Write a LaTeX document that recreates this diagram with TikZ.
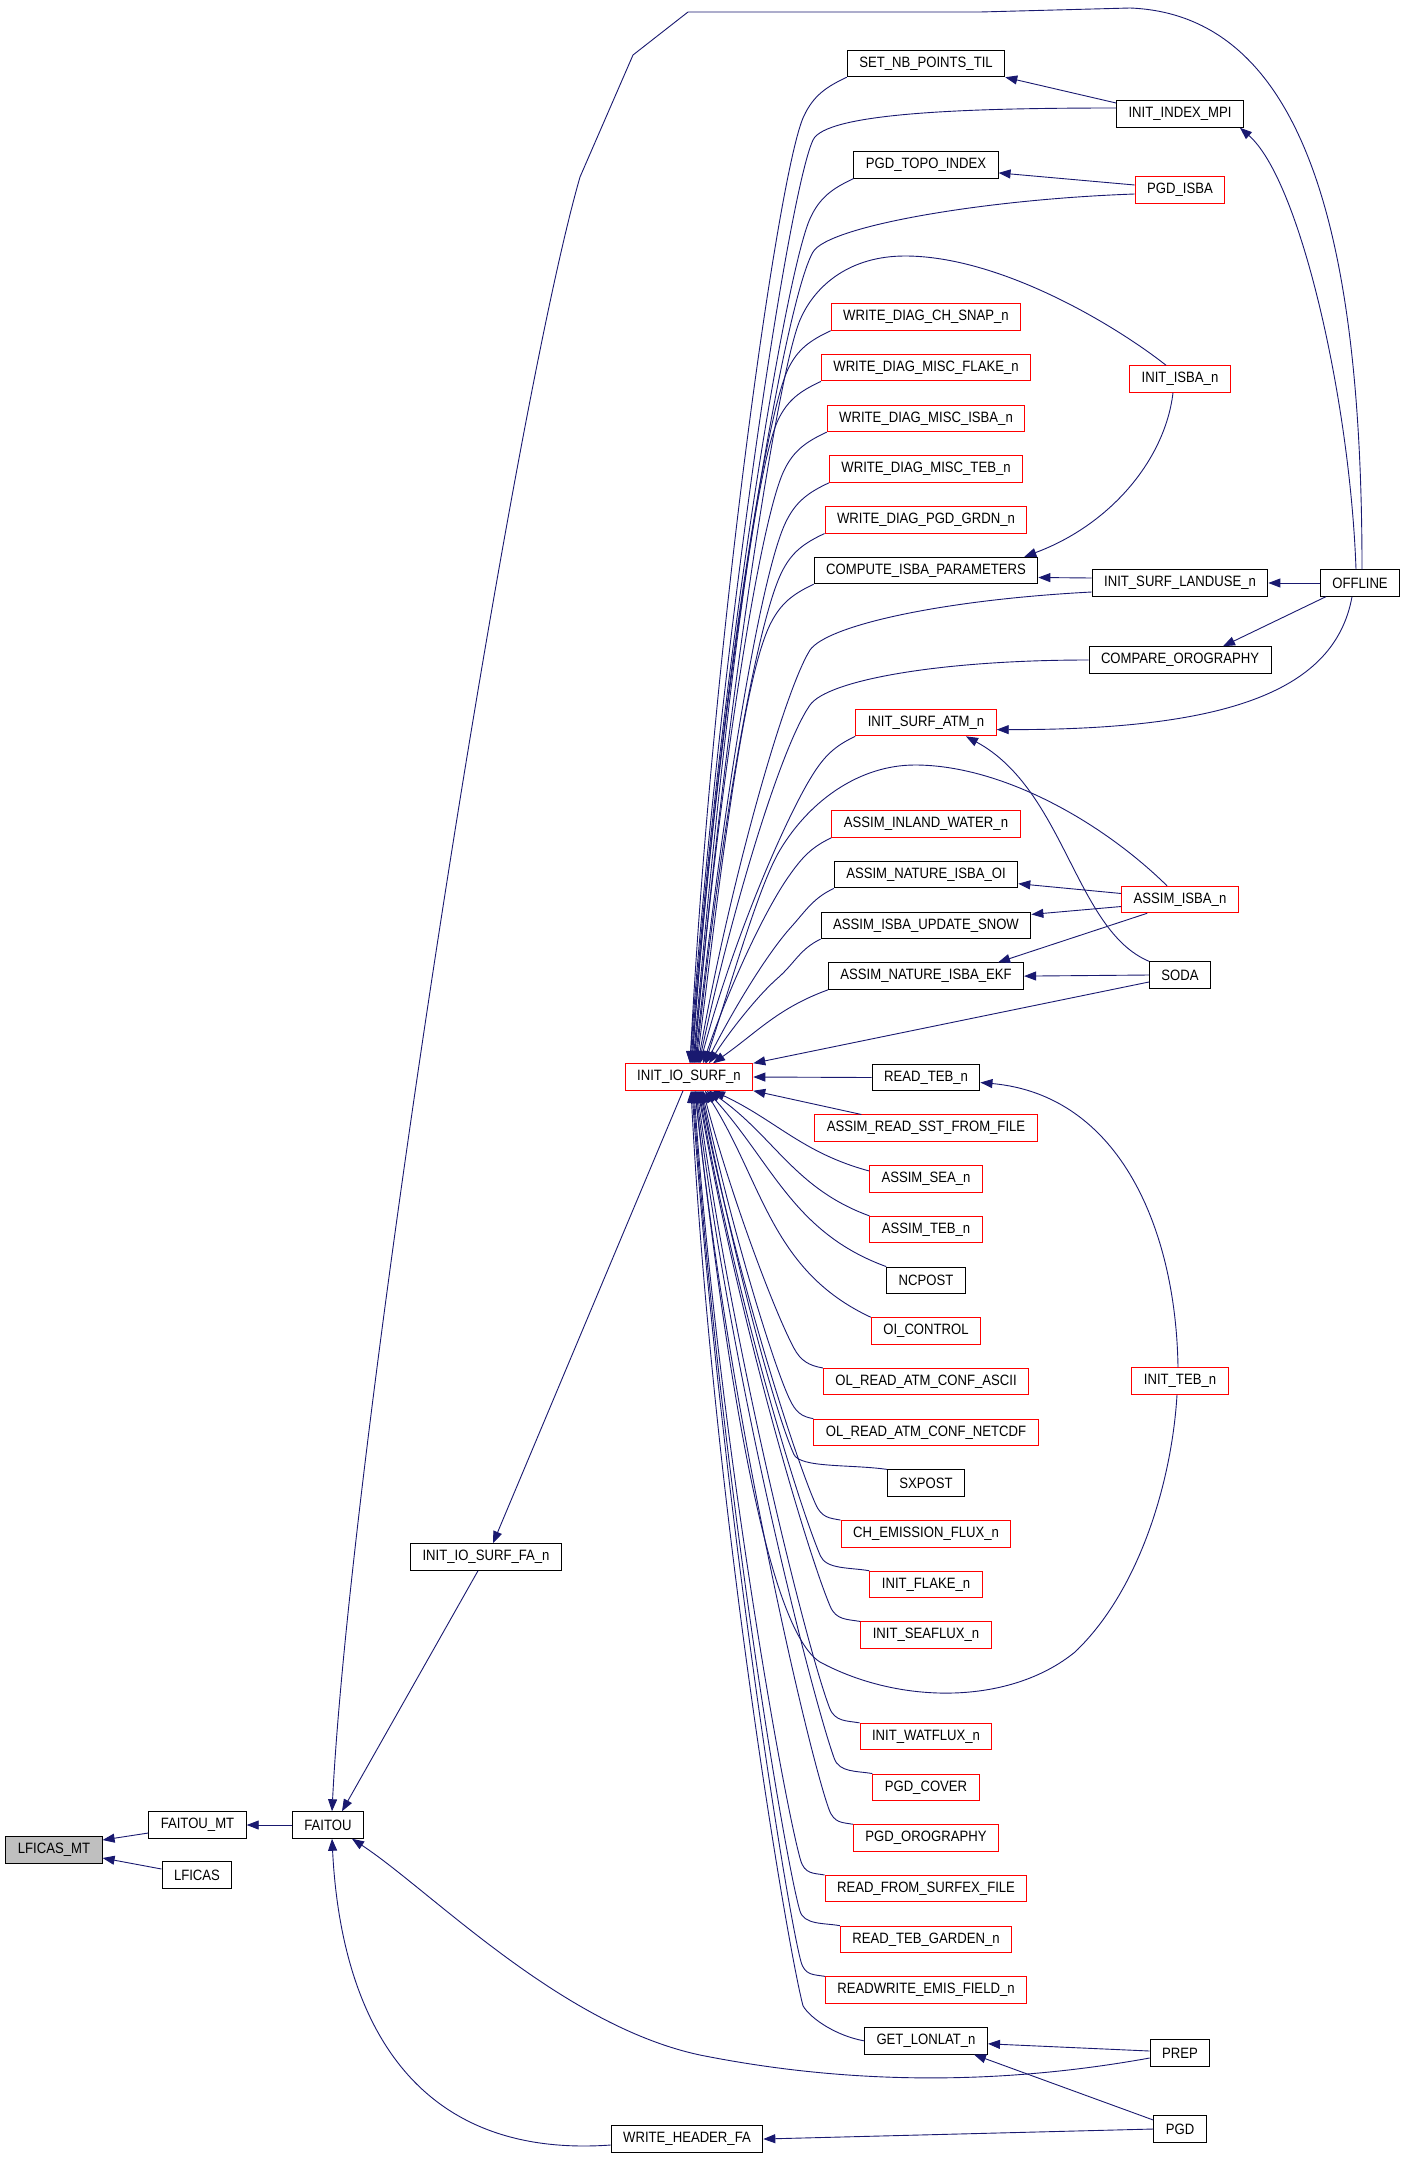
\documentclass[tikz,border=0pt]{standalone}
\usepackage{fontspec}
\newfontfamily\graphfont[FakeStretch=0.875]{Liberation Sans}
\usetikzlibrary{arrows.meta}
\definecolor{edgeblue}{RGB}{25,25,112}

\begin{document}
\begin{tikzpicture}[x=1pt,y=1pt,node distance=50.7pt,
func/.style={
rectangle,
draw,
line width=1pt,
minimum height=26.5pt,
inner xsep=12pt,
inner ysep=2pt,
font=\graphfont\fontsize{15}{18}\selectfont
},
funcred/.style={func,draw=red},
funcsel/.style={func,fill=black!25},
call/.style={->,>={Triangle[length=12pt,width=9pt]},draw=edgeblue,line width=0.9pt}]

\path[use as bounding box,fill=white] (0,0) rectangle (1405,-2160);

\node (lmt) [funcsel] at (54,-1850) {LFICAS\_MT};
\node (fmt) [func] at (197.5,-1825) {FAITOU\_MT};
\node (lficas) [func] at (197,-1875) {LFICAS};
\node (faitou) [func] at (328,-1825) {FAITOU};
\node (iiosfa) [func] at (486,-1557) {INIT\_IO\_SURF\_FA\_n};
\node (iois) [funcred] at (689,-1077) {INIT\_IO\_SURF\_n};
\node (whfa) [func] at (687,-2139) {WRITE\_HEADER\_FA};

\node (snpt) [func] at (926,-63.5) {SET\_NB\_POINTS\_TIL};
\node (pti) [func,below of=snpt,node distance=101.4pt] {PGD\_TOPO\_INDEX};
\node (wdcs) [funcred,below of=pti,node distance=152.1pt] {WRITE\_DIAG\_CH\_SNAP\_n};
\node (wdmf) [funcred,below of=wdcs] {WRITE\_DIAG\_MISC\_FLAKE\_n};
\node (wdmi) [funcred,below of=wdmf] {WRITE\_DIAG\_MISC\_ISBA\_n};
\node (wdmt) [funcred,below of=wdmi] {WRITE\_DIAG\_MISC\_TEB\_n};
\node (wdpg) [funcred,below of=wdmt] {WRITE\_DIAG\_PGD\_GRDN\_n};
\node (cip) [func,below of=wdpg] {COMPUTE\_ISBA\_PARAMETERS};
\node (isa) [funcred,below of=cip,node distance=152.1pt] {INIT\_SURF\_ATM\_n};
\node (aiw) [funcred,below of=isa,node distance=101.4pt] {ASSIM\_INLAND\_WATER\_n};
\node (anio) [func,below of=aiw] {ASSIM\_NATURE\_ISBA\_OI};
\node (aius) [func,below of=anio] {ASSIM\_ISBA\_UPDATE\_SNOW};
\node (anie) [func,below of=aius] {ASSIM\_NATURE\_ISBA\_EKF};
\node (rteb) [func,below of=anie,node distance=101.4pt] {READ\_TEB\_n};
\node (arsst) [funcred,below of=rteb] {ASSIM\_READ\_SST\_FROM\_FILE};
\node (asea) [funcred,below of=arsst] {ASSIM\_SEA\_n};
\node (ateb) [funcred,below of=asea] {ASSIM\_TEB\_n};
\node (ncpost) [func,below of=ateb] {NCPOST};
\node (oic) [funcred,below of=ncpost] {OI\_CONTROL};
\node (olasc) [funcred,below of=oic] {OL\_READ\_ATM\_CONF\_ASCII};
\node (olnet) [funcred,below of=olasc] {OL\_READ\_ATM\_CONF\_NETCDF};
\node (sxpost) [func,below of=olnet] {SXPOST};
\node (chef) [funcred,below of=sxpost] {CH\_EMISSION\_FLUX\_n};
\node (iflake) [funcred,below of=chef] {INIT\_FLAKE\_n};
\node (iseaf) [funcred,below of=iflake] {INIT\_SEAFLUX\_n};
\node (iwatf) [funcred,below of=iseaf,node distance=101.4pt] {INIT\_WATFLUX\_n};
\node (pgdcov) [funcred,below of=iwatf] {PGD\_COVER};
\node (pgdoro) [funcred,below of=pgdcov] {PGD\_OROGRAPHY};
\node (rfsf) [funcred,below of=pgdoro] {READ\_FROM\_SURFEX\_FILE};
\node (rtgn) [funcred,below of=rfsf] {READ\_TEB\_GARDEN\_n};
\node (rwef) [funcred,below of=rtgn] {READWRITE\_EMIS\_FIELD\_n};
\node (gll) [func,below of=rwef] {GET\_LONLAT\_n};

\node (imp) [func] at (1180,-114) {INIT\_INDEX\_MPI};
\node (pgdisba) [funcred] at (1180,-190) {PGD\_ISBA};
\node (isba) [funcred] at (1180,-379) {INIT\_ISBA\_n};
\node (isl) [func] at (1180,-583) {INIT\_SURF\_LANDUSE\_n};
\node (offline) [func,right of=isl,node distance=180pt] {OFFLINE};
\node (cmpo) [func] at (1180,-660) {COMPARE\_OROGRAPHY};
\node (ain) [funcred] at (1180,-899.5) {ASSIM\_ISBA\_n};
\node (soda) [func] at (1180,-975) {SODA};
\node (iteb) [funcred] at (1180,-1381) {INIT\_TEB\_n};
\node (prep) [func] at (1180,-2053) {PREP};
\node (pgd) [func] at (1180,-2129) {PGD};

\draw[call] ([yshift=-8pt]fmt.west) -- ([yshift=10pt]lmt.east);
\draw[call] ([yshift=6pt]lficas.west) -- ([yshift=-8pt]lmt.east);
\draw[call] (faitou.west) -- (fmt.east);
\draw[call] ([xshift=-8pt]iiosfa.south) -- ([xshift=14pt]faitou.north);
\draw[call] ([xshift=-6pt]iois.south) -- ([xshift=7pt]iiosfa.north);
\draw[call] ([yshift=-6pt]whfa.west) .. controls (400,-2160) and (340,-2000) .. ([xshift=4pt]faitou.south);
\draw[call] ([yshift=-5pt]prep.west) .. controls (1000,-2085) and (850,-2085) .. (700,-2055)
  .. controls (560,-2025) and (430,-1890) .. ([xshift=24pt]faitou.south);
\draw[call] ([xshift=2pt]offline.north) .. controls (1362,-250) and (1310,-15) .. (1130,-8)
  -- (980,-12) -- (688,-12) -- (633,-55) -- (580,-177)
  .. controls (510,-420) and (350,-1450) .. ([xshift=4pt]faitou.north);
\draw[call] (pgd.west) -- (whfa.east);
\draw[call] ([yshift=9pt]pgd.west) -- ([xshift=-14pt]gll.south east);
\draw[call] ([yshift=2pt]prep.west) -- ([yshift=-3pt]gll.east);

\draw[call] ([yshift=11pt]imp.west) -- (snpt.south east);
\draw[call] ([xshift=-4pt]offline.north) .. controls (1350,-400) and (1300,-180) .. ([xshift=-4pt]imp.south east);
\draw[call] ([yshift=5pt]pgdisba.west) -- ([yshift=-8pt]pti.east);
\draw[call] ([xshift=-7pt]isba.south) .. controls (1165,-460) and (1110,-525) .. ([xshift=-14pt]cip.north east);
\draw[call] ([yshift=5pt]isl.west) -- ([yshift=-7pt]cip.east);
\draw[call] (offline.west) -- (isl.east);
\draw[call] ([xshift=6pt]offline.south west) -- ([xshift=43pt]cmpo.north);
\draw[call] ([xshift=-8pt]offline.south) .. controls (1335,-690) and (1230,-730) .. ([yshift=-7pt]isa.east);
\draw[call] (soda.north west) .. controls (1075,-930) and (1065,-790) .. ([xshift=40pt]isa.south);
\draw[call] ([yshift=6pt]ain.west) -- ([yshift=-9pt]anio.east);
\draw[call] ([yshift=-7pt]ain.west) -- ([yshift=11pt]aius.east);
\draw[call] ([xshift=26pt]ain.south west) -- ([xshift=-26pt]anie.north east);
\draw[call] (soda.west) -- (anie.east);
\draw[call] ([xshift=-2pt]iteb.north) .. controls (1176,-1230) and (1120,-1095) .. ([yshift=-5pt]rteb.east);

\draw[call] ([yshift=6pt]imp.west) to[out=180,in=65,out distance=150,in distance=30] (813,-140)
  to[out=245,in=86,out distance=60,in distance=400] ([xshift=1pt]iois.north);
\draw[call] ([yshift=-4pt]pgdisba.west) to[out=182,in=60,out distance=150,in distance=30] (813,-252)
  to[out=240,in=86,out distance=60,in distance=360] ([xshift=3pt]iois.north);
\draw[call] ([xshift=-14pt]isba.north) .. controls (1115,-325) and (1000,-256) .. (905,-256)
  .. controls (850,-256) and (815,-285) .. (800,-320)
  to[out=247,in=85,out distance=60,in distance=330] ([xshift=5pt]iois.north);
\draw[call] ([yshift=-9pt]isl.west) to[out=183,in=55,out distance=150,in distance=30] (810,-650)
  to[out=238,in=80,out distance=50,in distance=180] ([xshift=9pt]iois.north);
\draw[call] (cmpo.west) to[out=180,in=55,out distance=150,in distance=30] (810,-705)
  to[out=235,in=78,out distance=50,in distance=160] ([xshift=10pt]iois.north);
\draw[call] ([xshift=-13pt]ain.north) .. controls (1100,-820) and (1000,-765) .. (915,-765)
  .. controls (860,-765) and (810,-800) .. (780,-850)
  to[out=239,in=72,out distance=40,in distance=90] ([xshift=16pt]iois.north);
\draw[call] ([yshift=-7pt]soda.west) -- (iois.north east);
\draw[call] (rteb.west) -- (iois.east);
\draw[call] ([xshift=47pt]arsst.north west) -- (iois.south east);
\draw[call] ([xshift=-3pt]iteb.south) .. controls (1172,-1480) and (1140,-1590) .. (1075,-1652)
  .. controls (1010,-1705) and (900,-1705) .. (820,-1662)
  .. controls (760,-1625) and (718,-1300) .. ([xshift=6pt]iois.south);

\draw[call] (snpt.south west) to[out=205,in=65] ++(-43,-39) to[out=245,in=87,out distance=60,in distance=420] ([xshift=1pt]iois.north);
\draw[call] (pti.south west) to[out=205,in=65] ++(-43,-39) to[out=245,in=86,out distance=60,in distance=380] ([xshift=2pt]iois.north);
\draw[call] (wdcs.south west) to[out=205,in=65] ++(-43,-39) to[out=245,in=86,out distance=60,in distance=312] ([xshift=3pt]iois.north);
\draw[call] (wdmf.south west) to[out=205,in=65] ++(-43,-39) to[out=245,in=85,out distance=60,in distance=290] ([xshift=4pt]iois.north);
\draw[call] (wdmi.south west) to[out=205,in=65] ++(-43,-39) to[out=245,in=85,out distance=60,in distance=267] ([xshift=5pt]iois.north);
\draw[call] (wdmt.south west) to[out=205,in=64] ++(-43,-39) to[out=244,in=84,out distance=60,in distance=244] ([xshift=6pt]iois.north);
\draw[call] (wdpg.south west) to[out=205,in=64] ++(-43,-39) to[out=244,in=84,out distance=60,in distance=221] ([xshift=7pt]iois.north);
\draw[call] (cip.south west) to[out=205,in=63] ++(-43,-39) to[out=243,in=83,out distance=60,in distance=198] ([xshift=8pt]iois.north);
\draw[call] (isa.south west) to[out=205,in=58] ++(-43,-39) to[out=238,in=75,out distance=50,in distance=130] ([xshift=11pt]iois.north);
\draw[call] (aiw.south west) to[out=205,in=55] ++(-43,-39) to[out=235,in=71,out distance=40,in distance=85] ([xshift=14pt]iois.north);
\draw[call] (anio.south west) to[out=205,in=48] ++(-43,-39) to[out=228,in=63,out distance=35,in distance=62] ([xshift=17pt]iois.north);
\draw[call] (aius.south west) to[out=205,in=41] ++(-43,-39) to[out=221,in=57,out distance=25,in distance=40] ([xshift=20pt]iois.north);
\draw[call] (anie.south west) to[out=200,in=35] ([xshift=24pt]iois.north);

\draw[call] ([yshift=8pt]asea.west) to[out=165,in=-25] ([xshift=24pt]iois.south);
\draw[call] (ateb.north west) to[out=160,in=-35] ([xshift=20pt]iois.south);
\draw[call] (ncpost.north west) to[out=160,in=-48] ([xshift=18pt]iois.south);
\draw[call] (oic.north west) to[out=155,in=-58] ([xshift=16pt]iois.south);
\draw[call] (olasc.north west) to[out=170,in=-62,in distance=15] ++(-29,20) to[out=118,in=-75,out distance=40,in distance=116] ([xshift=14pt]iois.south);
\draw[call] (olnet.north west) to[out=170,in=-65,in distance=15] ++(-24,20) to[out=115,in=-78,out distance=40,in distance=139] ([xshift=13pt]iois.south);
\draw[call] (sxpost.north west) to[out=172,in=-66,in distance=15] ++(-93,15) to[out=114,in=-79,out distance=50,in distance=164] ([xshift=12pt]iois.south);
\draw[call] (chef.north west) to[out=170,in=-66,in distance=15] ++(-25,16) to[out=114,in=-79,out distance=50,in distance=186] ([xshift=11pt]iois.south);
\draw[call] (iflake.north west) to[out=170,in=-67,in distance=15] ++(-49,15) to[out=113,in=-80,out distance=60,in distance=209] ([xshift=10pt]iois.south);
\draw[call] (iseaf.north west) to[out=170,in=-67,in distance=15] ++(-30,15) to[out=113,in=-80,out distance=60,in distance=232] ([xshift=9pt]iois.south);
\draw[call] (iwatf.north west) to[out=170,in=-69,in distance=15] ++(-30,15) to[out=111,in=-82,out distance=60,in distance=278] ([xshift=8pt]iois.south);
\draw[call] (pgdcov.north west) to[out=170,in=-70,in distance=15] ++(-38,15) to[out=110,in=-83,out distance=60,in distance=300] ([xshift=7pt]iois.south);
\draw[call] (pgdoro.north west) to[out=170,in=-70,in distance=15] ++(-24,15) to[out=110,in=-84,out distance=60,in distance=324] ([xshift=6pt]iois.south);
\draw[call] (rfsf.north west) to[out=170,in=-74,in distance=15] ++(-24,15) to[out=106,in=-86,out distance=60,in distance=347] ([xshift=5pt]iois.south);
\draw[call] (rtgn.north west) to[out=170,in=-74,in distance=15] ++(-40,15) to[out=106,in=-86,out distance=60,in distance=369] ([xshift=4pt]iois.south);
\draw[call] (rwef.north west) to[out=170,in=-75,in distance=15] ++(-24,15) to[out=105,in=-86,out distance=60,in distance=392] ([xshift=3pt]iois.south);
\draw[call] (gll.west) to[out=170,in=-60,in distance=15] ++(-61,35) to[out=105,in=-87,out distance=60,in distance=411] ([xshift=2pt]iois.south);
\end{tikzpicture}
\end{document}
